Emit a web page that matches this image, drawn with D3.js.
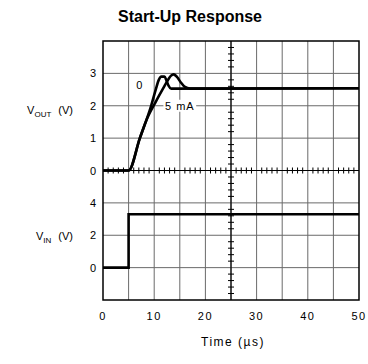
<!DOCTYPE html>
<html>
<head>
<meta charset="utf-8">
<script src="https://cdn.jsdelivr.net/npm/d3@7/dist/d3.min.js"></script>
<style>
  body { margin: 0; background: #fff; }
  text { font-family: "Liberation Sans", Arial, sans-serif; fill: #000; }
</style>
</head>
<body>
<script>
// time axis (microseconds)
var timeTicks = [0, 10, 20, 30, 40, 50];
var voutTicks = [0, 1, 2, 3];
var vinTicks = [0, 2, 4];

// VOUT response, no load
var vout0 = [[0, 0], [5, 0], [7.2, 1], [9.4, 2], [10.3, 2.5], [10.9, 2.8], [11.4, 2.9],
    [12.0, 2.9], [12.4, 2.78], [12.8, 2.62], [13.3, 2.53], [50, 2.54]];
// VOUT response, 5 mA load
var vout5mA = [[0, 0], [5, 0], [7.2, 1], [8.6, 1.6], [10.4, 2.15], [11.8, 2.55], [12.7, 2.8],
    [13.3, 2.93], [13.8, 2.97], [14.4, 2.9], [15.2, 2.72], [16, 2.58], [17, 2.53], [50, 2.54]];
// input step
var vin = [[0, 0], [5, 0], [5, 3.3], [50, 3.3]];

var svg = d3.select('body').append('svg')
    .attr('width', 368)
    .attr('height', 364);

var x = d3.scaleLinear().domain([0, 50]).range([103, 359]);
var yOut = d3.scaleLinear().domain([-4, 4]).range([300, 41]);
var yIn = d3.scaleLinear().domain([-2, 14]).range([300, 41]);

// grid
var grid = svg.append('g');
grid.selectAll('line.v')
    .data(d3.range(5, 50, 5))
    .enter().append('line')
    .attr('x1', function(d) { return x(d); })
    .attr('x2', function(d) { return x(d); })
    .attr('y1', yOut(4)).attr('y2', yOut(-4))
    .style('stroke', '#6a6a6a').style('stroke-width', 1);
grid.selectAll('line.h')
    .data(d3.range(-3, 4, 1))
    .enter().append('line')
    .attr('x1', x(0)).attr('x2', x(50))
    .attr('y1', function(d) { return yOut(d); })
    .attr('y2', function(d) { return yOut(d); })
    .style('stroke', '#6a6a6a').style('stroke-width', 1);

// center axes with minor ticks
svg.append('line')
    .attr('x1', x(25)).attr('x2', x(25)).attr('y1', yOut(4)).attr('y2', yOut(-4))
    .style('stroke', '#000').style('stroke-width', 1.2);
svg.append('line')
    .attr('x1', x(0)).attr('x2', x(50)).attr('y1', yOut(0)).attr('y2', yOut(0))
    .style('stroke', '#000').style('stroke-width', 1.2);
svg.append('g').selectAll('line')
    .data(d3.range(-4, 4.01, 0.2).filter(function(d) { return Math.abs(d - Math.round(d)) > 0.01; }))
    .enter().append('line')
    .attr('x1', x(25) - 3).attr('x2', x(25) + 3)
    .attr('y1', function(d) { return yOut(d); })
    .attr('y2', function(d) { return yOut(d); })
    .style('stroke', '#000').style('stroke-width', 1);
svg.append('g').selectAll('line')
    .data(d3.range(1, 50, 1).filter(function(d) { return d % 5 !== 0; }))
    .enter().append('line')
    .attr('x1', function(d) { return x(d); })
    .attr('x2', function(d) { return x(d); })
    .attr('y1', yOut(0) - 3).attr('y2', yOut(0) + 3)
    .style('stroke', '#000').style('stroke-width', 1);

// frame
svg.append('rect')
    .attr('x', x(0)).attr('y', yOut(4))
    .attr('width', x(50) - x(0)).attr('height', yOut(-4) - yOut(4))
    .style('fill', 'none').style('stroke', '#000').style('stroke-width', 1.5);

// curves
var curveLine = function(sc) {
    return d3.line()
        .x(function(d) { return x(d[0]); })
        .y(function(d) { return sc(d[1]); })
        .curve(d3.curveMonotoneX);
};
[vout0, vout5mA].forEach(function(s) {
    svg.append('path').datum(s)
        .attr('d', curveLine(yOut))
        .style('fill', 'none').style('stroke', '#000')
        .style('stroke-width', 2.6).style('stroke-linejoin', 'round');
});
svg.append('path').datum(vin)
    .attr('d', d3.line().x(function(d) { return x(d[0]); }).y(function(d) { return yIn(d[1]); }))
    .style('fill', 'none').style('stroke', '#000').style('stroke-width', 2.6);

// curve labels
svg.append('text').attr('x', x(7.1)).attr('y', yOut(2.65) + 4)
    .attr('text-anchor', 'middle').style('font-size', '11px').text('0');
var lbl = svg.append('g');
lbl.append('rect')
    .attr('x', x(11.8)).attr('y', yOut(2) - 6).attr('width', x(18.2) - x(11.8)).attr('height', 12)
    .style('fill', '#fff');
lbl.append('text').attr('x', x(15)).attr('y', yOut(2) + 4)
    .attr('text-anchor', 'middle').style('font-size', '11px').style('letter-spacing', '1px')
    .text('5 mA');

// tick labels
svg.append('g').selectAll('text')
    .data(voutTicks).enter().append('text')
    .attr('x', 96).attr('y', function(d) { return yOut(d) + 4; })
    .attr('text-anchor', 'end').style('font-size', '11px')
    .text(function(d) { return d; });
svg.append('g').selectAll('text')
    .data(vinTicks).enter().append('text')
    .attr('x', 96).attr('y', function(d) { return yIn(d) + 4; })
    .attr('text-anchor', 'end').style('font-size', '11px')
    .text(function(d) { return d; });
svg.append('g').selectAll('text')
    .data(timeTicks).enter().append('text')
    .attr('x', function(d) { return x(d); }).attr('y', 320)
    .attr('text-anchor', 'middle').style('font-size', '11px').style('letter-spacing', '1.5px')
    .text(function(d) { return d; });

// axis titles
var vt = svg.append('text').attr('x', 73).attr('y', 114)
    .attr('text-anchor', 'end').style('font-size', '11px');
vt.append('tspan').text('V');
vt.append('tspan').attr('dy', 3).style('font-size', '8px').text('OUT');
vt.append('tspan').attr('dy', -3).attr('dx', 7).text('(V)');
var it = svg.append('text').attr('x', 73).attr('y', 240)
    .attr('text-anchor', 'end').style('font-size', '11px');
it.append('tspan').text('V');
it.append('tspan').attr('dy', 3).style('font-size', '8px').text('IN');
it.append('tspan').attr('dy', -3).attr('dx', 7).text('(V)');
svg.append('text').attr('x', 233).attr('y', 346)
    .attr('text-anchor', 'middle').style('font-size', '12px').style('letter-spacing', '1.5px')
    .text('Time (\u00b5s)');

svg.append('text').attr('x', 190).attr('y', 22)
    .attr('text-anchor', 'middle').style('font-size', '16px').style('font-weight', 'bold')
    .text('Start-Up Response');
</script>
</body>
</html>
